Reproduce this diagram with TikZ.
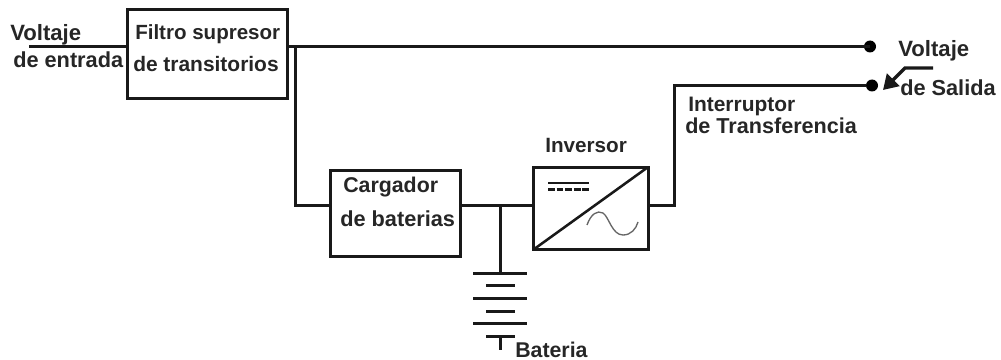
\documentclass[tikz,border=0pt]{standalone}
\usepackage{fontspec}
\setmainfont{Liberation Sans}
\usetikzlibrary{arrows.meta}
\tikzset{
  box/.style={draw=black!90,line width=2.25pt,inner sep=0pt,fill=white},
  wire/.style={draw=black!90,line width=2.25pt,line cap=butt,line join=miter},
  plate/.style={draw=black!90,line width=1.9pt},
  term/.style={circle,fill=black,inner sep=0pt,minimum size=9pt},
  lbl/.style={anchor=base west,inner sep=0pt,text=black!85,font=\fontsize{#1pt}{18pt}\selectfont\bfseries},
}
\begin{document}
\begin{tikzpicture}[x=0.75pt,y=-0.75pt]
\useasboundingbox (0,0) rectangle (1001,360);
% boxes
\node[box,minimum width=120pt,minimum height=66.75pt] (filtro) at (207.5,54.5) {};
\node[box,minimum width=97.5pt,minimum height=64.5pt] (cargador) at (395.5,213.5) {};
\node[box,minimum width=86.25pt,minimum height=61.5pt] (inversor) at (590.5,208.5) {};
% terminals
\node[term] (t1) at (870,46.5) {};
\node[term] (t2) at (872,85.5) {};
% helper points
\coordinate (in) at (29,46.5);
\coordinate (branch) at (295.5,46.5);
\coordinate (bcorner) at (295.5,205.5);
\coordinate (bjunction) at (500.5,205.5);
\coordinate (icorner) at (674.5,205.5);
\coordinate (itop) at (674.5,85.5);
\coordinate (btop) at (500.5,273);
\coordinate (bend) at (500.5,350);
\coordinate (bstub) at (500.5,336);
% wires
\draw[wire] (in) -- (filtro.west |- in);
\draw[wire] (filtro.east |- in) -- (t1.center |- in);
\draw[wire] (branch) -- (bcorner) -- (cargador.west |- bcorner);
\draw[wire] (cargador.east |- bcorner) -- (inversor.west |- bcorner);
\draw[wire] (inversor.east |- icorner) -- (icorner) -- (itop) -- (t2);
\draw[wire] (bjunction) -- (btop);
\draw[wire] (bstub) -- (bend);
% battery plates
\coordinate (p1l) at (473,273.5); \coordinate (p1r) at (527,273.5);
\coordinate (p2l) at (486,285.5); \coordinate (p2r) at (515,285.5);
\coordinate (p3l) at (473,298.5); \coordinate (p3r) at (527,298.5);
\coordinate (p4l) at (486,311.5); \coordinate (p4r) at (515,311.5);
\coordinate (p5l) at (473,323.5); \coordinate (p5r) at (527,323.5);
\coordinate (p6l) at (486,336.5); \coordinate (p6r) at (515,336.5);
\draw[plate] (p1l)--(p1r) (p2l)--(p2r) (p3l)--(p3r) (p4l)--(p4r) (p5l)--(p5r) (p6l)--(p6r);
% inverter symbol
\draw[plate,shorten <=1.5pt,shorten >=1.5pt] (inversor.south west) -- (inversor.north east);
\draw[draw=black!90,line width=1.6pt] (548,183) -- (589,183);
\draw[draw=black!90,line width=1.6pt,dash pattern=on 5.2pt off 1.2pt] (548,189.5) -- (589,189.5);
\draw[draw=black!60,line width=1pt] (587,225) .. controls (591,214) and (597,210) .. (603,213)
  .. controls (609,217) and (612,235) .. (623,235) .. controls (631,235) and (636,229) .. (638,222);
% output arrow
\coordinate (a1) at (933,68);
\coordinate (a2) at (905,68);
\coordinate (a3) at (883,90);
\draw[draw=black!90,line width=2.6pt,-{Triangle[length=11pt,width=13pt]}] (a1) -- (a2) -- (a3);
% labels
\node[lbl=16.6] (l1) at (10,41) {Voltaje};
\node[lbl=16.3] (l2) at (13,68) {de entrada};
\node[lbl=15.4] (l3) at (135,40) {Filtro supresor};
\node[lbl=15.7] (l4) at (133,72) {de transitorios};
\node[lbl=16.6] (l5) at (898,57) {Voltaje};
\node[lbl=16.3] (l6) at (900,96) {de Salida};
\node[lbl=15.7] (l7) at (688,112) {Interruptor};
\node[lbl=16.2] (l8) at (685,133) {de Transferencia};
\node[lbl=15.5] (l9) at (545,153) {Inversor};
\node[lbl=16] (l10) at (343,193) {Cargador};
\node[lbl=16.3] (l11) at (340,226) {de baterias};
\node[lbl=16] (l12) at (515,357) {Bateria};
\end{tikzpicture}
\end{document}
